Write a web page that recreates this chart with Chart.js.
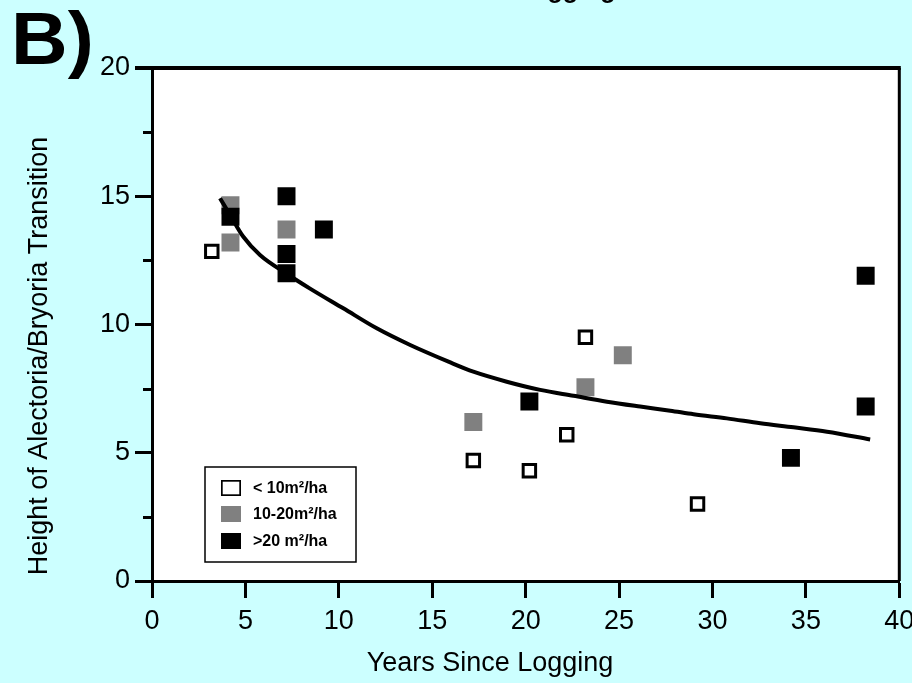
<!DOCTYPE html>
<html><head><meta charset="utf-8">
<script src="https://cdn.jsdelivr.net/npm/chart.js@4.4.0/dist/chart.umd.min.js"></script>
<style>html,body{margin:0;padding:0;background:#ccffff;overflow:hidden;}</style>
</head><body>
<canvas id="c" width="912" height="683"></canvas>
<script>
// ---- data ----
const xLow  = [3.2, 17.2, 20.2, 22.2, 23.2, 29.2];
const yLow  = [12.85, 4.7, 4.3, 5.7, 9.5, 3.0];
const xMid  = [4.2, 4.2, 7.2, 17.2, 23.2, 25.2];
const yMid  = [14.65, 13.2, 13.7, 6.2, 7.55, 8.8];
const xHigh = [4.2, 7.2, 7.2, 7.2, 9.2, 20.2, 34.2, 38.2, 38.2];
const yHigh = [14.2, 15.0, 12.75, 12.0, 13.7, 7.0, 4.8, 11.9, 6.8];
const xFit  = [3.64, 4.18, 4.89, 5.78, 7.21, 8.46, 10.24, 12.03, 13.82, 15.87, 17.20, 18.99, 20.78, 22.56, 24.35, 26.13, 27.74, 28.99, 30.77, 32.56, 34.34, 36.13, 38.44];
const yFit  = [14.92, 14.27, 13.42, 12.71, 11.98, 11.4, 10.63, 9.85, 9.20, 8.55, 8.16, 7.77, 7.45, 7.22, 6.99, 6.80, 6.64, 6.5, 6.34, 6.15, 5.99, 5.82, 5.52];
const seriesLabels = ['< 10m\u00B2/ha', '10-20m\u00B2/ha', '>20 m\u00B2/ha'];
const xTickStep = 5, xMin = 0, xMax = 40;
const yTickStep = 5, yMin = 0, yMax = 20;
const yMinorTicks = [2.5, 7.5, 12.5, 17.5];
const panelLabel = 'B)';
const cutTitle = 'Logging';
const xTitle = 'Years Since Logging';
const yTitle = 'Height of Alectoria/Bryoria Transition';

const pts = (xs, ys) => xs.map((x, i) => ({x, y: ys[i]}));
const FONT = '"Liberation Sans", Arial, Helvetica, sans-serif';

const bgPlugin = {
  id: 'bg',
  beforeDraw(chart) {
    const {ctx, chartArea: a} = chart;
    ctx.save();
    ctx.fillStyle = '#ccffff';
    ctx.fillRect(0, 0, chart.width, chart.height);
    ctx.fillStyle = '#ffffff';
    ctx.fillRect(a.left, a.top, a.right - a.left, a.bottom - a.top);
    ctx.restore();
  },
  afterDraw(chart) {
    const {ctx, chartArea: a, scales} = chart;
    ctx.save();
    // frame top & right
    ctx.strokeStyle = '#000';
    ctx.lineWidth = 4;
    ctx.beginPath();
    ctx.moveTo(a.left - 17, a.top);
    ctx.lineTo(a.right + 1.5, a.top);
    ctx.stroke();
    ctx.lineWidth = 3;
    ctx.beginPath();
    ctx.moveTo(a.right, a.top);
    ctx.lineTo(a.right, a.bottom);
    ctx.stroke();
    // minor y ticks
    yMinorTicks.forEach(v => {
      const py = Math.round(scales.y.getPixelForValue(v)) + 0.5;
      ctx.beginPath();
      ctx.moveTo(a.left - 9, py);
      ctx.lineTo(a.left, py);
      ctx.stroke();
    });
    // legend
    const lx = a.left + 53, ly = a.bottom - 114, lw = 151, lh = 95;
    ctx.lineWidth = 1.5;
    ctx.fillStyle = '#fff';
    ctx.fillRect(lx, ly, lw, lh);
    ctx.strokeRect(lx, ly, lw, lh);
    const rows = [21, 47, 74];
    ctx.font = 'bold 16px ' + FONT;
    ctx.textBaseline = 'middle';
    ctx.textAlign = 'left';
    [0, 1, 2].forEach(i => {
      const ds = chart.data.datasets[i];
      const cy = ly + rows[i];
      const mx = lx + 16, mw = 20, mh = 16;
      if (i === 0) {
        ctx.fillStyle = '#fff';
        ctx.fillRect(mx, cy - mh / 2, mw, mh);
        ctx.lineWidth = 1.7;
        ctx.strokeStyle = '#000';
        ctx.strokeRect(mx + 0.85, cy - mh / 2 + 0.85, mw - 1.7, mh - 1.7);
      } else {
        ctx.fillStyle = ds.backgroundColor;
        ctx.fillRect(mx, cy - mh / 2, mw, mh);
      }
      ctx.fillStyle = '#000';
      ctx.fillText(ds.label, lx + 48, cy + 1);
    });
    // axis titles
    ctx.fillStyle = '#000';
    ctx.font = '27px ' + FONT;
    ctx.textAlign = 'center';
    ctx.textBaseline = 'middle';
    ctx.fillText(xTitle, 490, 664);
    ctx.save();
    ctx.translate(40, 356);
    ctx.rotate(-Math.PI / 2);
    ctx.fillText(yTitle, 0, 0);
    ctx.restore();
    // panel label
    ctx.save();
    ctx.font = 'bold 74px ' + FONT;
    ctx.textAlign = 'left';
    ctx.textBaseline = 'alphabetic';
    ctx.translate(11, 64);
    ctx.scale(1.06, 1);
    ctx.fillText(panelLabel, 0, 0);
    ctx.restore();
    // cut-off title remnants at the very top
    ctx.font = 'bold 25px ' + FONT;
    ctx.textAlign = 'left';
    ctx.textBaseline = 'alphabetic';
    ctx.fillText(cutTitle, 517, -2.5);
    ctx.restore();
  }
};

const axisCommon = {
  grid: { drawOnChartArea: false, drawTicks: true, tickLength: 17, tickColor: '#000', tickWidth: 3 },
  border: { display: true, color: '#000', width: 3 }
};

new Chart(document.getElementById('c'), {
  type: 'scatter',
  data: {
    datasets: [
      { label: seriesLabels[0], data: pts(xLow, yLow), pointStyle: 'rect', pointRadius: 8.8,
        backgroundColor: '#ffffff', borderColor: '#000000', borderWidth: 3, order: 1 },
      { label: seriesLabels[1], data: pts(xMid, yMid), pointStyle: 'rect', pointRadius: 12.7,
        backgroundColor: '#808080', borderColor: '#808080', borderWidth: 0, order: 2 },
      { label: seriesLabels[2], data: pts(xHigh, yHigh), pointStyle: 'rect', pointRadius: 12.7,
        backgroundColor: '#000000', borderColor: '#000000', borderWidth: 0, order: 1.5 },
      { label: 'fit', type: 'line', data: pts(xFit, yFit), showLine: true, pointRadius: 0,
        borderColor: '#000', borderWidth: 4, fill: false, cubicInterpolationMode: 'monotone', order: 0 }
    ]
  },
  options: {
    responsive: false,
    animation: false,
    devicePixelRatio: 1,
    events: [],
    layout: { padding: { top: 68, right: 12, left: 0, bottom: 0 } },
    plugins: { legend: { display: false }, tooltip: { enabled: false } },
    scales: {
      x: Object.assign({}, axisCommon, {
        type: 'linear', min: xMin, max: xMax, position: 'bottom',
        ticks: { stepSize: xTickStep, color: '#000', font: { family: FONT, size: 27 }, padding: 7, maxRotation: 0 },
        title: { display: false },
        afterFit: s => { s.height = 102; s.paddingRight = 0; s.paddingLeft = 0; }
      }),
      y: Object.assign({}, axisCommon, {
        type: 'linear', min: yMin, max: yMax,
        ticks: { stepSize: yTickStep, color: '#000', font: { family: FONT, size: 27 }, padding: 5 },
        title: { display: false },
        afterFit: s => { s.width = 152; s.paddingTop = 0; s.paddingBottom = 0; }
      })
    }
  },
  plugins: [bgPlugin]
});
</script>
</body></html>
